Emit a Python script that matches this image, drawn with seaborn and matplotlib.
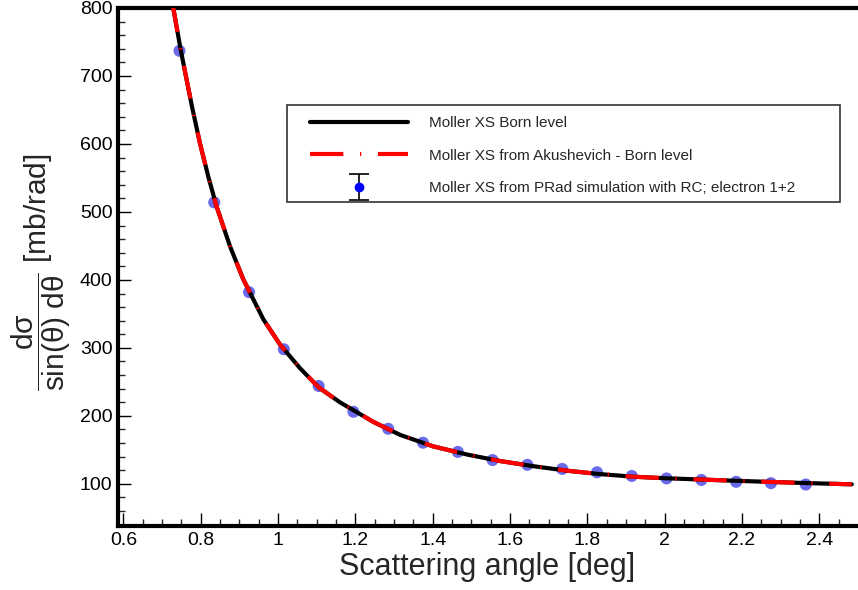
import numpy as np
import pandas as pd
import seaborn as sns
import matplotlib
matplotlib.use("Agg")
import matplotlib.pyplot as plt
from matplotlib.patches import Rectangle
from matplotlib.lines import Line2D
from matplotlib.legend_handler import HandlerErrorbar
from matplotlib.ticker import MultipleLocator

# ---- data ----
born_x = [0.720, 0.729, 0.748, 0.777, 0.798, 0.820, 0.841, 0.876, 0.910, 0.962,
          1.005, 1.057, 1.105, 1.160, 1.247, 1.316, 1.402, 1.490, 1.574, 1.660,
          1.747, 1.830, 1.919, 2.000, 2.092, 2.180, 2.264, 2.370, 2.484]
born_y = [833, 800, 739, 656, 601, 551, 508, 449, 401, 342,
          305, 270, 242, 220, 191, 172, 155, 143, 133.6, 126,
          119.4, 114.5, 110.5, 108.3, 106.4, 104.6, 103.0, 101.1, 99.3]
akush_x = born_x
akush_y = born_y

sim_x = [0.745, 0.835, 0.925, 1.015, 1.105, 1.195, 1.285, 1.375, 1.465, 1.555,
         1.645, 1.735, 1.825, 1.915, 2.005, 2.095, 2.185, 2.275, 2.365]
sim_y = [737, 514, 382, 298, 244, 206, 181, 160.5, 147, 135,
         128, 122, 117, 111.6, 108, 105.7, 103, 101, 99]
sim_err = [2, 1.5, 1.2, 1, 1, 0.8, 0.8, 0.7, 0.7, 0.6,
           0.6, 0.6, 0.6, 0.5, 0.5, 0.5, 0.5, 0.5, 0.5]

x_ticks = [0.6, 0.8, 1.0, 1.2, 1.4, 1.6, 1.8, 2.0, 2.2, 2.4]
x_tick_labels = ["0.6", "0.8", "1", "1.2", "1.4", "1.6", "1.8", "2", "2.2", "2.4"]
y_ticks = [100, 200, 300, 400, 500, 600, 700, 800]

labels = ["Moller XS Born level",
          "Moller XS from Akushevich - Born level",
          "Moller XS from PRad simulation with RC; electron 1+2"]

# ---- style ----
sns.set_theme(style="white")
plt.rcParams["font.family"] = ["Liberation Sans", "DejaVu Sans"]
plt.rcParams["mathtext.fontset"] = "custom"
plt.rcParams["mathtext.rm"] = "Liberation Sans"
plt.rcParams["mathtext.it"] = "Liberation Sans"
plt.rcParams["mathtext.bf"] = "Liberation Sans:bold"

W, H = 858, 590
fig = plt.figure(figsize=(W / 100, H / 100), dpi=100)
L, R, T, B = 118, 856, 8, 526
ax = fig.add_axes([L / W, 1 - B / H, (R - L) / W, (B - T) / H])

born = pd.DataFrame({"x": born_x, "y": born_y})
akush = pd.DataFrame({"x": akush_x, "y": akush_y})
sim = pd.DataFrame({"x": sim_x, "y": sim_y, "err": sim_err})

# simulation points (behind lines)
sns.scatterplot(data=sim, x="x", y="y", ax=ax, color="#1a1ae0", alpha=0.65,
                s=75, edgecolor="none", zorder=2, legend=False)
ax.errorbar(sim["x"], sim["y"], yerr=sim["err"], fmt="none", ecolor="#5a5ad8",
            elinewidth=1, zorder=2)

sns.lineplot(data=born, x="x", y="y", ax=ax, color="black", linewidth=3.0,
             estimator=None, sort=False, zorder=3, legend=False)
sns.lineplot(data=akush, x="x", y="y", ax=ax, color="red", linewidth=3.0,
             estimator=None, sort=False, zorder=4, legend=False)
ax.lines[-1].set_dashes((8, 4, 0.3, 4))
ax.lines[-1].set_dash_capstyle("butt")

# proxy for the legend entry (drawn outside the visible range)
h3 = ax.errorbar([-10], [-10], yerr=[1], fmt="o", color="blue", ecolor="black",
                 markersize=6, capsize=7, elinewidth=1.2, capthick=1.2)

ax.set_xlim(0.586, 2.495)
ax.set_ylim(38, 800)

ax.set_xticks(x_ticks)
ax.set_xticklabels(x_tick_labels)
ax.set_yticks(y_ticks)
ax.xaxis.set_minor_locator(MultipleLocator(0.05))
ax.yaxis.set_minor_locator(MultipleLocator(20))
ax.tick_params(axis="both", which="major", direction="in", length=9.5, width=1.0,
               labelsize=14, colors="black", pad=4, top=False, right=False,
               bottom=True, left=True)
ax.tick_params(axis="both", which="minor", direction="in", length=5, width=1.0,
               top=False, right=False, bottom=True, left=True)

for s in ["left", "bottom", "top"]:
    ax.spines[s].set_linewidth(3)
    ax.spines[s].set_color("black")
ax.spines["right"].set_visible(False)

ax.set_xlabel("")
ax.set_ylabel("")
fig.text((L + R) / 2 / W, 1 - 567 / H, "Scattering angle [deg]", ha="center",
         va="center", fontsize=22)
fig.text(41 / W, 1 - 272 / H,
         r"$\dfrac{\mathrm{d}\sigma}{\mathrm{sin}(\theta)\ \mathrm{d}\theta}$ [mb/rad]",
         rotation=90, ha="center", va="center", fontsize=21.5)

# legend
fig.patches.append(Rectangle((287 / W, 1 - 202 / H), (840 - 287) / W, (202 - 105) / H,
                             transform=fig.transFigure, fill=False,
                             edgecolor="#333333", linewidth=1.2, figure=fig))
h1 = Line2D([], [], color="black", linewidth=3)
h2 = Line2D([], [], color="red", linewidth=3, dashes=(8, 4, 0.3, 4),
            dash_capstyle="butt")
leg = ax.legend([h1, h2, h3], labels, loc="upper left",
                bbox_to_anchor=(298 / W, 1 - 104 / H), bbox_transform=fig.transFigure,
                frameon=False, fontsize=11, handlelength=6.4, handletextpad=1.4,
                labelspacing=1.2, borderpad=0.3,
                handler_map={h3: HandlerErrorbar(xerr_size=0.5, yerr_size=0.85)})

fig.savefig("out.png", dpi=100)
